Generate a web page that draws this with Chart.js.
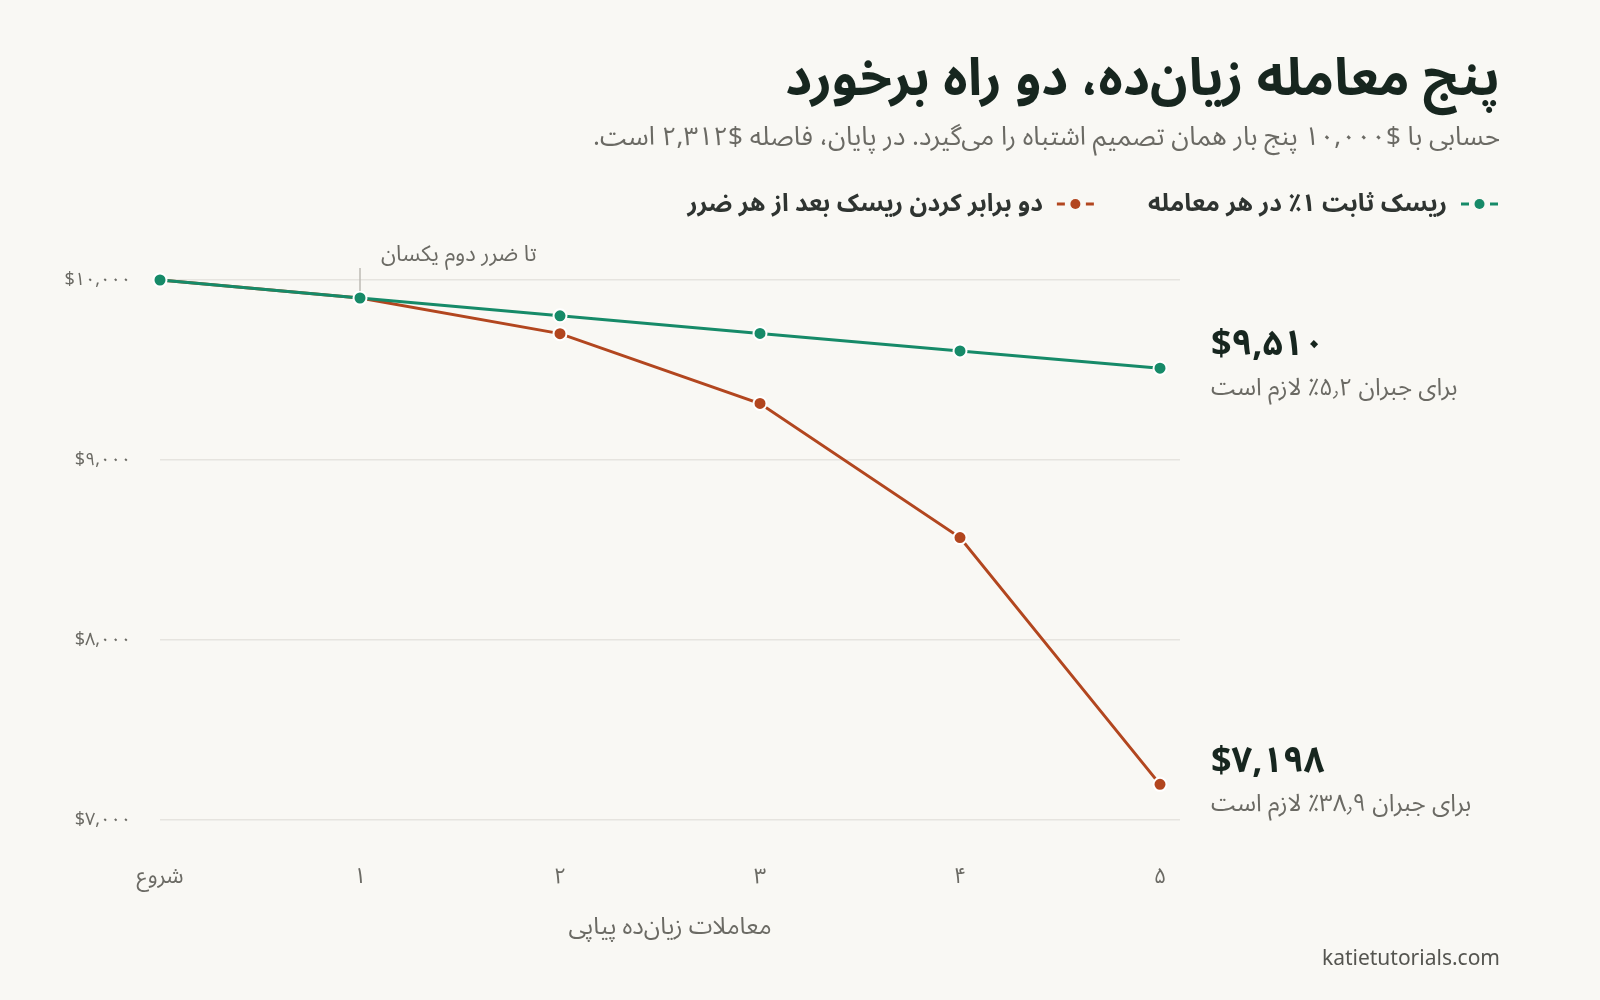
<!DOCTYPE html>
<html lang="fa">
<head>
<meta charset="utf-8">
<script src="https://cdn.jsdelivr.net/npm/chart.js@4.4.1/dist/chart.umd.min.js"></script>
<style>
  html, body { margin: 0; padding: 0; background: #f9f8f4; }
  #wrap { width: 1600px; height: 1000px; position: relative; }
</style>
</head>
<body>
<div id="wrap"><canvas id="chart"></canvas></div>
<script>
// values
const xLabels = ['شروع', '۱', '۲', '۳', '۴', '۵'];
const fixedRisk = [10000, 9900, 9801, 9703, 9606, 9510];
const doubledRisk = [10000, 9900, 9702, 9314, 8569, 7198];
const yTicks = [7000, 8000, 9000, 10000];
const seriesNames = ['ریسک ثابت ۱٪ در هر معامله', 'دو برابر کردن ریسک بعد از هر ضرر'];
const endNotes = ['برای جبران ۵٫۲٪ لازم است', 'برای جبران ۳۸٫۹٪ لازم است'];

const titleText = 'پنج معامله زیان‌ده، دو راه برخورد';
const subtitleText = 'حسابی با $۱۰,۰۰۰ پنج بار همان تصمیم اشتباه را می‌گیرد. در پایان، فاصله $۲,۳۱۲ است.';
const annotationText = 'تا ضرر دوم یکسان';
const xTitle = 'معاملات زیان‌ده پیاپی';
const sourceText = 'katietutorials.com';

const FONT = '"Noto Sans", "Noto Sans Arabic", sans-serif';
const INK = '#17261f';
const MUTED = '#6b6a64';
const GREEN = '#168a68';
const ORANGE = '#b2461f';

function toFa(n) {
    return n.toLocaleString('en-US').replace(/\d/g, d => '۰۱۲۳۴۵۶۷۸۹'[d]);
}

const overlay = {
    id: 'overlay',
    afterDraw(chart) {
        const ctx = chart.ctx;
        const xs = chart.scales.x;
        const ys = chart.scales.y;
        ctx.save();
        ctx.textBaseline = 'middle';

        // title + subtitle
        ctx.direction = 'rtl';
        ctx.textAlign = 'right';
        ctx.fillStyle = INK;
        ctx.font = `bold 52px ${FONT}`;
        ctx.fillText(titleText, 1500, 80);
        ctx.fillStyle = MUTED;
        ctx.font = `26px ${FONT}`;
        ctx.fillText(subtitleText, 1500, 138);

        // legend, right to left
        let right = 1498;
        const ly = 204;
        ctx.font = `bold 24.5px ${FONT}`;
        chart.data.datasets.forEach((ds, i) => {
            const c = ds.borderColor;
            ctx.strokeStyle = c;
            ctx.fillStyle = c;
            ctx.lineWidth = 3;
            ctx.beginPath();
            ctx.moveTo(right - 37, ly); ctx.lineTo(right - 29, ly);
            ctx.moveTo(right - 8, ly); ctx.lineTo(right, ly);
            ctx.stroke();
            ctx.beginPath();
            ctx.arc(right - 18.5, ly, 5, 0, Math.PI * 2);
            ctx.fill();
            ctx.fillStyle = '#2f3431';
            ctx.direction = 'rtl';
            ctx.textAlign = 'right';
            const tx = right - 51;
            ctx.fillText(seriesNames[i], tx, ly);
            right = tx - ctx.measureText(seriesNames[i]).width - 54;
        });

        // annotation at trade 1
        const ax = xs.getPixelForValue(1);
        ctx.strokeStyle = '#bdbbb5';
        ctx.lineWidth = 1.5;
        ctx.beginPath();
        ctx.moveTo(ax, ys.getPixelForValue(10000) - 12);
        ctx.lineTo(ax, ys.getPixelForValue(9900) - 7);
        ctx.stroke();
        ctx.fillStyle = MUTED;
        ctx.font = `22px ${FONT}`;
        ctx.direction = 'rtl';
        ctx.textAlign = 'left';
        ctx.fillText(annotationText, ax + 21, 255);

        // end labels
        const ex = xs.getPixelForValue(5) + 51;
        [fixedRisk, doubledRisk].forEach((arr, i) => {
            const v = arr[arr.length - 1];
            const py = ys.getPixelForValue(v);
            ctx.direction = 'ltr';
            ctx.textAlign = 'left';
            ctx.fillStyle = INK;
            ctx.font = `bold 36px ${FONT}`;
            ctx.fillText('$' + toFa(v), ex, py - 23);
            ctx.direction = 'rtl';
            ctx.textAlign = 'left';
            ctx.fillStyle = MUTED;
            ctx.font = `24px ${FONT}`;
            ctx.fillText(endNotes[i], ex, py + 20);
        });

        // source
        ctx.direction = 'ltr';
        ctx.textAlign = 'right';
        ctx.fillStyle = '#555550';
        ctx.font = `21px ${FONT}`;
        ctx.fillText(sourceText, 1500, 959);
        ctx.restore();
    }
};

new Chart(document.getElementById('chart'), {
    type: 'line',
    data: {
        datasets: [
            {
                label: seriesNames[0],
                data: fixedRisk.map((v, i) => ({ x: i, y: v })),
                borderColor: GREEN,
                backgroundColor: GREEN
            },
            {
                label: seriesNames[1],
                data: doubledRisk.map((v, i) => ({ x: i, y: v })),
                borderColor: ORANGE,
                backgroundColor: ORANGE
            }
        ].map(ds => Object.assign(ds, {
            borderWidth: 3,
            pointRadius: 6.5,
            pointBorderWidth: 2,
            pointBorderColor: '#ffffff',
            tension: 0,
            clip: false,
            fill: false
        }))
    },
    options: {
        responsive: true,
        maintainAspectRatio: false,
        animation: false,
        events: [],
        layout: { padding: { top: 280, left: 0, right: 0, bottom: 58 } },
        plugins: {
            legend: { display: false },
            tooltip: { enabled: false }
        },
        scales: {
            x: {
                type: 'linear',
                min: 0,
                max: 5.1,
                afterBuildTicks: s => { s.ticks = xLabels.map((_, i) => ({ value: i })); },
                afterFit: s => { s.height = 122; },
                grid: { display: false },
                border: { display: false },
                ticks: {
                    padding: 36,
                    maxRotation: 0,
                    color: MUTED,
                    font: { family: FONT, size: 22 },
                    callback: v => xLabels[v]
                },
                title: {
                    display: true,
                    text: xTitle,
                    color: MUTED,
                    font: { family: FONT, size: 24 },
                    padding: { top: 20, bottom: 0 }
                }
            },
            y: {
                min: 7000,
                max: 10000,
                afterBuildTicks: s => { s.ticks = yTicks.map(v => ({ value: v })); },
                afterFit: s => { s.width = 160; },
                grid: { color: '#e6e4df', lineWidth: 1.5, drawTicks: false },
                border: { display: false },
                ticks: {
                    padding: 29,
                    color: MUTED,
                    font: { family: FONT, size: 18 },
                    callback: v => '$' + toFa(v)
                }
            },
            yr: {
                position: 'right',
                display: true,
                afterFit: s => { s.width = 420; },
                grid: { display: false },
                border: { display: false },
                ticks: { display: false }
            }
        }
    },
    plugins: [overlay]
});
</script>
</body>
</html>
